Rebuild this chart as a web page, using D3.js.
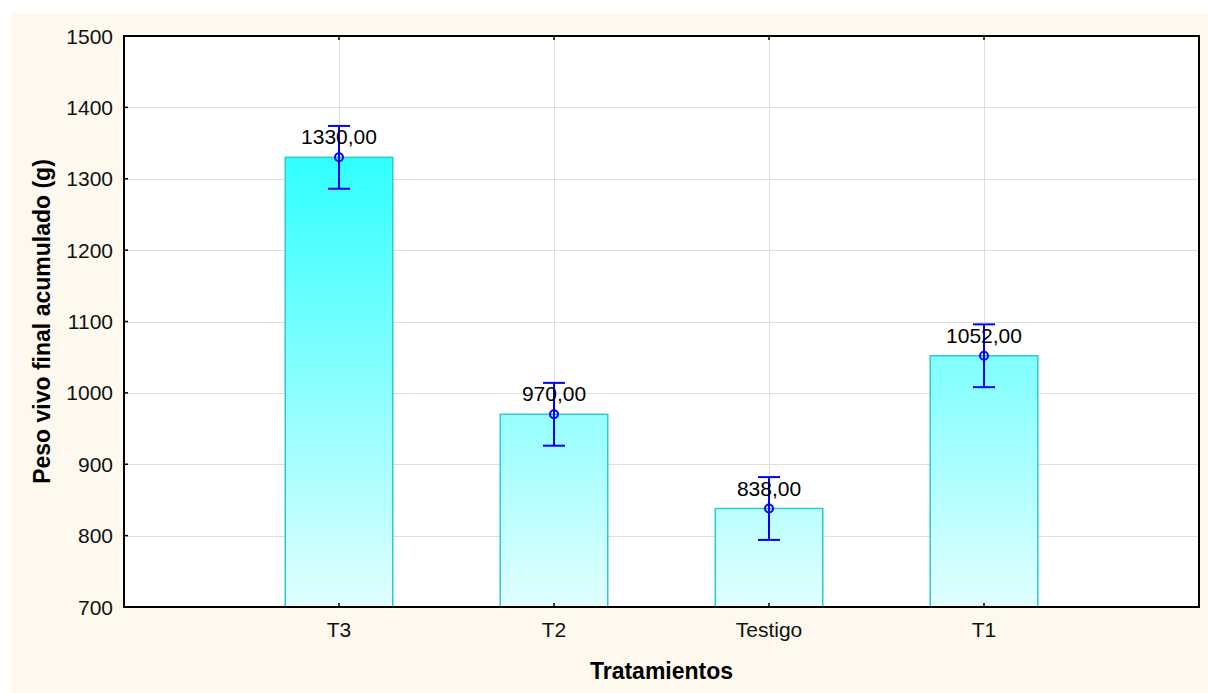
<!DOCTYPE html>
<html>
<head>
<meta charset="utf-8">
<script src="https://cdn.jsdelivr.net/npm/d3@7"></script>
<style>
  html, body { margin: 0; padding: 0; background: #fff; }
  svg { display: block; font-family: Arial, "Liberation Sans", sans-serif; }
</style>
</head>
<body>
<div id="chart"></div>
<script>
const categories = ['T3', 'T2', 'Testigo', 'T1'];
const means = [1330, 970, 838, 1052];
const errors = [44, 44, 44, 44];
const yTicks = [700, 800, 900, 1000, 1100, 1200, 1300, 1400, 1500];

const W = 1208, H = 693;
const m = { left: 124, top: 36, right: 1199, bottom: 607 };

const svg = d3.select('#chart').append('svg')
  .attr('width', W).attr('height', H);

svg.append('rect')
  .attr('x', 11).attr('y', 13).attr('width', W - 11).attr('height', H - 13)
  .attr('fill', '#fdf9ee');

const x = d3.scaleLinear().domain([0, categories.length + 1]).range([m.left, m.right]);
const y = d3.scaleLinear().domain([700, 1500]).range([m.bottom, m.top]);
const step = x(1) - x(0);
const barW = step * 0.5;

// gradient mapped over the plot height
const defs = svg.append('defs');
const grad = defs.append('linearGradient')
  .attr('id', 'barGrad')
  .attr('gradientUnits', 'userSpaceOnUse')
  .attr('x1', 0).attr('x2', 0)
  .attr('y1', y(1500)).attr('y2', y(700));
grad.append('stop').attr('offset', '0%').attr('stop-color', '#00ffff');
grad.append('stop').attr('offset', '100%').attr('stop-color', '#e2ffff');

svg.append('rect')
  .attr('x', m.left).attr('y', m.top)
  .attr('width', m.right - m.left).attr('height', m.bottom - m.top)
  .attr('fill', '#fff');

// grid
const grid = svg.append('g').attr('stroke', '#dedede').attr('stroke-width', 1);
grid.selectAll('line.h').data(yTicks.slice(1, -1)).join('line')
  .attr('x1', m.left).attr('x2', m.right)
  .attr('y1', d => Math.round(y(d)) + 0.5).attr('y2', d => Math.round(y(d)) + 0.5);
grid.selectAll('line.v').data(categories).join('line')
  .attr('y1', m.top).attr('y2', m.bottom)
  .attr('x1', (d, i) => Math.round(x(i + 1)) + 0.5).attr('x2', (d, i) => Math.round(x(i + 1)) + 0.5);

// bars
svg.append('g').selectAll('rect').data(means).join('rect')
  .attr('x', (d, i) => x(i + 1) - barW / 2)
  .attr('width', barW)
  .attr('y', d => y(d))
  .attr('height', d => y(700) - y(d))
  .attr('fill', 'url(#barGrad)')
  .attr('stroke', '#2ccaca')
  .attr('stroke-width', 1.5);

// error bars
const eb = svg.append('g').attr('stroke', '#0000ff').attr('stroke-width', 2).attr('fill', 'none');
means.forEach((v, i) => {
  const cx = x(i + 1);
  const g = eb.append('g');
  g.append('line').attr('x1', cx).attr('x2', cx).attr('y1', y(v + errors[i])).attr('y2', y(v - errors[i]));
  g.append('line').attr('x1', cx - 11).attr('x2', cx + 11).attr('y1', y(v + errors[i])).attr('y2', y(v + errors[i]));
  g.append('line').attr('x1', cx - 11).attr('x2', cx + 11).attr('y1', y(v - errors[i])).attr('y2', y(v - errors[i]));
  g.append('circle').attr('cx', cx).attr('cy', y(v)).attr('r', 4);
});

// value labels
svg.append('g').selectAll('text').data(means).join('text')
  .attr('x', (d, i) => x(i + 1))
  .attr('y', d => y(d) - 13)
  .attr('text-anchor', 'middle')
  .attr('font-size', 21)
  .attr('fill', '#000')
  .text(d => d.toFixed(2).replace('.', ','));

// frame
svg.append('rect')
  .attr('x', m.left).attr('y', m.top)
  .attr('width', m.right - m.left).attr('height', m.bottom - m.top)
  .attr('fill', 'none').attr('stroke', '#000').attr('stroke-width', 2);

// y axis
const yAxis = svg.append('g');
yAxis.selectAll('line').data(yTicks).join('line')
  .attr('x1', m.left).attr('x2', m.left + 4)
  .attr('y1', d => y(d)).attr('y2', d => y(d))
  .attr('stroke', '#000').attr('stroke-width', 1.5);
yAxis.selectAll('text').data(yTicks).join('text')
  .attr('x', m.left - 11)
  .attr('y', d => y(d))
  .attr('dy', '0.36em')
  .attr('text-anchor', 'end')
  .attr('font-size', 21)
  .attr('fill', '#111')
  .text(d => d);

// x axis
const xAxis = svg.append('g');
xAxis.selectAll('line').data(categories).join('line')
  .attr('x1', (d, i) => x(i + 1)).attr('x2', (d, i) => x(i + 1))
  .attr('y1', m.bottom).attr('y2', m.bottom - 4)
  .attr('stroke', '#000').attr('stroke-width', 1.5);
xAxis.selectAll('line.t').data(categories).join('line')
  .attr('class', 't')
  .attr('x1', (d, i) => x(i + 1)).attr('x2', (d, i) => x(i + 1))
  .attr('y1', m.top).attr('y2', m.top + 4)
  .attr('stroke', '#000').attr('stroke-width', 1.5);
xAxis.selectAll('text').data(categories).join('text')
  .attr('x', (d, i) => x(i + 1))
  .attr('y', 637)
  .attr('text-anchor', 'middle')
  .attr('font-size', 21)
  .attr('fill', '#111')
  .text(d => d);

// titles
svg.append('text')
  .attr('x', (m.left + m.right) / 2)
  .attr('y', 679)
  .attr('text-anchor', 'middle')
  .attr('font-size', 23)
  .attr('font-weight', 'bold')
  .text('Tratamientos');

svg.append('text')
  .attr('transform', `translate(50, ${(m.top + m.bottom) / 2}) rotate(-90)`)
  .attr('text-anchor', 'middle')
  .attr('font-size', 23)
  .attr('font-weight', 'bold')
  .text('Peso vivo final acumulado (g)');
</script>
</body>
</html>
